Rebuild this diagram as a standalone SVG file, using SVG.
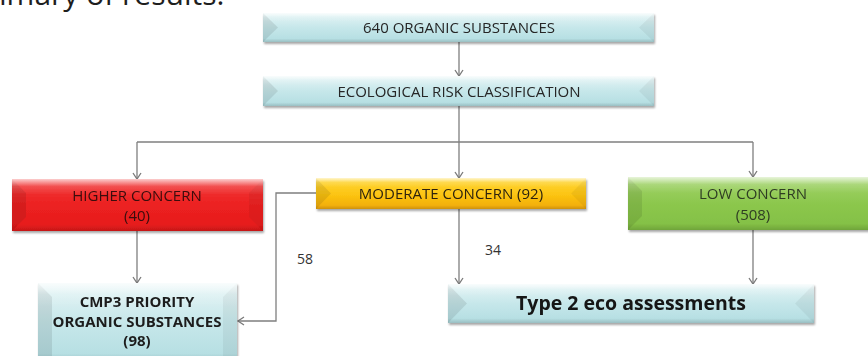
<svg xmlns="http://www.w3.org/2000/svg" width="868" height="356" viewBox="0 0 868 356">
  <defs>
    <linearGradient id="gCyan" x1="0" y1="0" x2="0" y2="1">
      <stop offset="0" stop-color="#e6f5f6"/>
      <stop offset="0.5" stop-color="#c6e7ea"/>
      <stop offset="1" stop-color="#b2dde1"/>
    </linearGradient>
    <linearGradient id="gRed" x1="0" y1="0" x2="0" y2="1">
      <stop offset="0" stop-color="#f23a3a"/>
      <stop offset="0.5" stop-color="#ec2121"/>
      <stop offset="1" stop-color="#e51b1b"/>
    </linearGradient>
    <linearGradient id="gYellow" x1="0" y1="0" x2="0" y2="1">
      <stop offset="0" stop-color="#ffd83a"/>
      <stop offset="0.55" stop-color="#fcc412"/>
      <stop offset="1" stop-color="#f0a90a"/>
    </linearGradient>
    <linearGradient id="gGreen" x1="0" y1="0" x2="0" y2="1">
      <stop offset="0" stop-color="#a3d46c"/>
      <stop offset="0.5" stop-color="#8cc74d"/>
      <stop offset="1" stop-color="#82bf44"/>
    </linearGradient>
    <!-- bevel shading laid over every box -->
    <linearGradient id="gBevel" x1="0" y1="0" x2="0" y2="1">
      <stop offset="0" stop-color="#ffffff" stop-opacity="0.75"/>
      <stop offset="0.14" stop-color="#ffffff" stop-opacity="0.15"/>
      <stop offset="0.3" stop-color="#ffffff" stop-opacity="0"/>
      <stop offset="0.88" stop-color="#000000" stop-opacity="0"/>
      <stop offset="1" stop-color="#000000" stop-opacity="0.14"/>
    </linearGradient>
    <filter id="shadow" x="-5%" y="-20%" width="110%" height="150%">
      <feGaussianBlur in="SourceAlpha" stdDeviation="1.2"/>
      <feOffset dx="1" dy="2" result="b"/>
      <feComponentTransfer><feFuncA type="linear" slope="0.35"/></feComponentTransfer>
      <feMerge><feMergeNode/><feMergeNode in="SourceGraphic"/></feMerge>
    </filter>
    <marker id="arrow" markerWidth="10" markerHeight="10" refX="7" refY="4.5" orient="auto" markerUnits="userSpaceOnUse">
      <path d="M1,0.5 L7,4.5 L1,8.5" fill="none" stroke="#7a7a7a" stroke-width="1.3"/>
    </marker>
  </defs>
  <style>
    .lbl { font-family: "Open Sans", "Liberation Sans", sans-serif; fill: #262626; text-anchor: middle; }
    .reg { font-size: 15px; }
    .bold { font-size: 15px; font-weight: bold; fill: #1e1e1e; }
    .big { font-size: 19.5px; font-weight: bold; fill: #141414; }
    .side { fill: #000000; fill-opacity: 0.09; }
    .sideR { fill: #000000; fill-opacity: 0.05; }
    .bev { fill: url(#gBevel); }
    .wire { fill: none; stroke: #7f7f7f; stroke-width: 1.3; }
    .num { font-family: "Open Sans", "Liberation Sans", sans-serif; font-size: 14px; fill: #333333; text-anchor: middle; }
  </style>

  <rect width="868" height="356" fill="#ffffff"/>

  <!-- heading, partly above the top edge -->
  <text x="-56" y="5" font-family="Open Sans, Liberation Sans, sans-serif" font-size="30" fill="#1e1e1e">Summary of results:</text>

  <!-- connectors -->
  <g id="connectors">
    <path class="wire" d="M459,42 V76" marker-end="url(#arrow)"/>
    <path class="wire" d="M459,106 V142"/>
    <path class="wire" d="M137,142 H753"/>
    <path class="wire" d="M137,142 V179" marker-end="url(#arrow)"/>
    <path class="wire" d="M459,142 V178" marker-end="url(#arrow)"/>
    <path class="wire" d="M753,142 V177" marker-end="url(#arrow)"/>
    <path class="wire" d="M137,231 V283" marker-end="url(#arrow)"/>
    <path class="wire" d="M316,193 H276 V321 H238" marker-end="url(#arrow)"/>
    <path class="wire" d="M459,209 V284" marker-end="url(#arrow)"/>
    <path class="wire" d="M753,230 V284" marker-end="url(#arrow)"/>
    <text class="num" x="305" y="264">58</text>
    <text class="num" x="493" y="255">34</text>
  </g>

  <g id="organic-substances" filter="url(#shadow)">
    <rect x="263" y="13" width="391" height="29" fill="url(#gCyan)"/>
    <polygon class="side" points="263,13 278,27.5 263,42"/>
    <polygon class="sideR" points="654,13 639,27.5 654,42"/>
    <rect class="bev" x="263" y="13" width="391" height="29"/>
    <text class="lbl reg" x="459" y="33">640 ORGANIC SUBSTANCES</text>
  </g>

  <g id="risk-classification" filter="url(#shadow)">
    <rect x="263" y="76" width="391" height="30" fill="url(#gCyan)"/>
    <polygon class="side" points="263,76 278,91 263,106"/>
    <polygon class="sideR" points="654,76 639,91 654,106"/>
    <rect class="bev" x="263" y="76" width="391" height="30"/>
    <text class="lbl reg" x="459" y="97">ECOLOGICAL RISK CLASSIFICATION</text>
  </g>

  <g id="higher-concern" filter="url(#shadow)">
    <rect x="12" y="179" width="251" height="52" fill="url(#gRed)"/>
    <polygon class="side" points="12,179 26,193 26,217 12,231"/>
    <polygon class="sideR" points="263,179 249,193 249,217 263,231"/>
    <rect class="bev" x="12" y="179" width="251" height="52"/>
    <text class="lbl reg" x="137" y="201" style="fill:#3a0c0c">HIGHER CONCERN</text>
    <text class="lbl reg" x="137" y="221" style="fill:#3a0c0c">(40)</text>
  </g>

  <g id="moderate-concern" filter="url(#shadow)">
    <rect x="316" y="178" width="270" height="31" fill="url(#gYellow)"/>
    <polygon class="side" points="316,178 331,193.5 316,209"/>
    <polygon class="sideR" points="586,178 571,193.5 586,209"/>
    <rect class="bev" x="316" y="178" width="270" height="31"/>
    <text class="lbl reg" x="451" y="199" style="fill:#2e2410">MODERATE CONCERN (92)</text>
  </g>

  <g id="low-concern" filter="url(#shadow)">
    <rect x="628" y="177" width="242" height="53" fill="url(#gGreen)"/>
    <polygon class="side" points="628,177 642,191 642,216 628,230"/>
    <rect class="bev" x="628" y="177" width="242" height="53"/>
    <text class="lbl reg" x="753" y="199" style="fill:#2f3d24">LOW CONCERN</text>
    <text class="lbl reg" x="753" y="220" style="fill:#2f3d24">(508)</text>
  </g>

  <g id="cmp3-priority" filter="url(#shadow)">
    <rect x="38" y="283" width="199" height="80" fill="url(#gCyan)"/>
    <polygon class="side" points="38,283 52,297 52,356 38,356"/>
    <polygon class="sideR" points="237,283 223,297 223,356 237,356"/>
    <rect class="bev" x="38" y="283" width="199" height="80"/>
    <text class="lbl bold" x="137" y="307">CMP3 PRIORITY</text>
    <text class="lbl bold" x="137" y="327">ORGANIC SUBSTANCES</text>
    <text class="lbl bold" x="137" y="346">(98)</text>
  </g>

  <g id="type2-eco" filter="url(#shadow)">
    <rect x="448" y="284" width="366" height="39" fill="url(#gCyan)"/>
    <polygon class="side" points="448,284 467,303.5 448,323"/>
    <polygon class="sideR" points="814,284 795,303.5 814,323"/>
    <rect class="bev" x="448" y="284" width="366" height="39"/>
    <text class="lbl big" x="631" y="310">Type 2 eco assessments</text>
  </g>
</svg>
